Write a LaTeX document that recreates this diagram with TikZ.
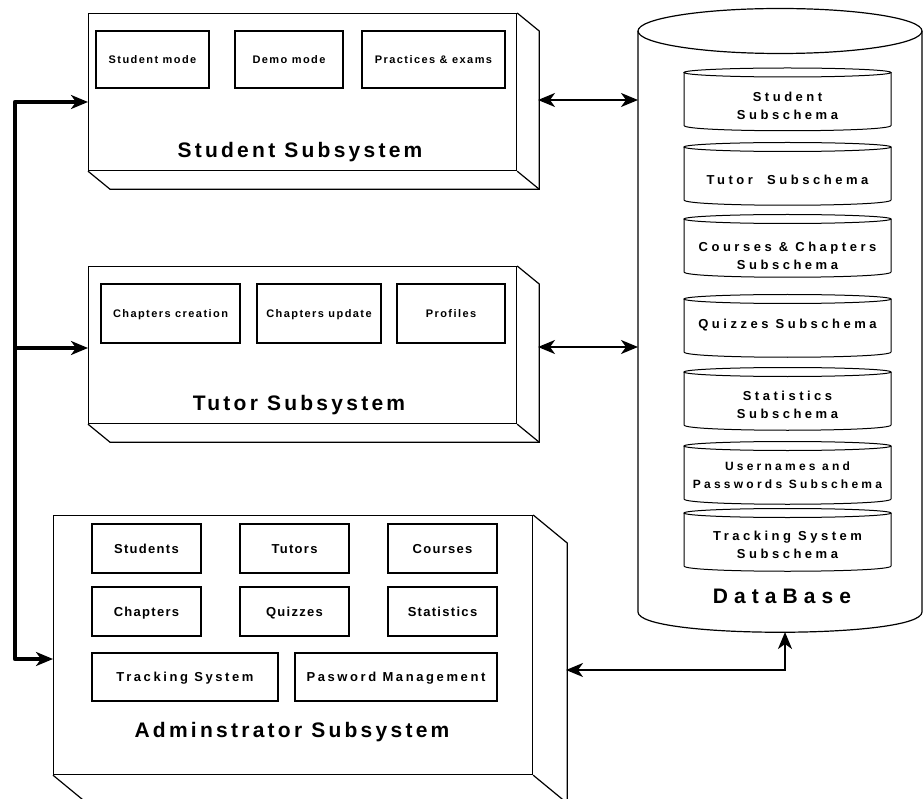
\documentclass[tikz,border=0pt]{standalone}
\usepackage{fontspec}
\setmainfont{Liberation Sans}
\newfontfamily\ttlfont{Liberation Sans}[LetterSpace=15.5]
\newfontfamily\basefont{Liberation Sans}[LetterSpace=29]
\newfontfamily\boxfont{Liberation Sans}[LetterSpace=13]
\newfontfamily\admfont{Liberation Sans}[LetterSpace=10]
\newfontfamily\admwide{Liberation Sans}[LetterSpace=20]
\newfontfamily\schfont{Liberation Sans}[LetterSpace=27]
\usetikzlibrary{arrows.meta,calc}

\tikzset{
  face/.style={draw,line width=1.2pt,anchor=north west,inner sep=0pt},
  part/.style={draw,line width=1.2pt,inner sep=0pt,text height=7.9pt,text depth=0pt,
    font=\boxfont\bfseries\fontsize{11}{13}\selectfont},
  apart/.style={part,text height=9.3pt,font=\admfont\bfseries\fontsize{13}{15}\selectfont},
  bpart/.style={apart,font=\admwide\bfseries\fontsize{13}{15}\selectfont},
  title/.style={anchor=base,font=\ttlfont\bfseries\fontsize{21}{25}\selectfont},
  bus/.style={line width=4.5pt,line join=round},
  link/.style={line width=2pt,<->},
}

\begin{document}
\begin{tikzpicture}[x=1pt,y=-1pt,>={Stealth[length=17pt,width=14pt,inset=5pt]}]
  \clip (0,0) rectangle (923,799);
  % subsystem slabs
  \node[face,minimum width=428pt,minimum height=157pt] (stud) at (88,13) {};
  \node[face,minimum width=428pt,minimum height=157pt] (tut)  at (88,266) {};
  \node[face,minimum width=479pt,minimum height=259pt] (adm)  at (53,515) {};
  \foreach \n/\dx/\dy in {stud/22/18,tut/22/18,adm/34/28}{
    \draw[line width=1.2pt] (\n.south west) -- ++(\dx,\dy) -- ($(\n.south east)+(\dx,\dy)$)
      -- ($(\n.north east)+(\dx,\dy)$) -- (\n.north east);
    \draw[line width=1.2pt] (\n.south east) -- ++(\dx,\dy);
  }

  % student subsystem
  \node[part,minimum width=113pt,minimum height=57pt] (sMode) at (152.5,59.5) {Student mode};
  \node[part,minimum width=108pt,minimum height=57pt] (dMode) at (289,59.5)   {Demo mode};
  \node[part,minimum width=143pt,minimum height=57pt] (pExam) at (433.5,59.5) {Practices \& exams};
  \node[title] (studT) at (300,158) {Student Subsystem};

  % tutor subsystem
  \node[part,minimum width=139pt,minimum height=59pt] (cNew) at (170.5,313.5) {Chapters creation};
  \node[part,minimum width=124pt,minimum height=59pt] (cUpd) at (319,313.5)   {Chapters update};
  \node[part,minimum width=108pt,minimum height=59pt] (prof) at (451,313.5)   {Profiles};
  \node[title] (tutT) at (299,410) {Tutor Subsystem};

  % administrator subsystem
  \foreach \nm/\x/\y/\txt in {aStud/146.5/548.5/Students,aTut/294.5/548.5/Tutors,
      aCour/442.5/548.5/Courses,aChap/146.5/611.5/Chapters,
      aQuiz/294.5/611.5/Quizzes,aStat/442.5/611.5/Statistics}
    \node[apart,minimum width=109pt,minimum height=49pt] (\nm) at (\x,\y) {\txt};
  \node[bpart,minimum width=186pt,minimum height=48pt] (aTrack) at (185,677) {Tracking System};
  \node[bpart,minimum width=202pt,minimum height=48pt] (aPass)  at (396,677) {Pasword Management};
  \node[title] (admT) at (292,737) {Adminstrator Subsystem};

  % database
  \draw[line width=1.2pt] (780,31) ellipse (142pt and 22.5pt);
  \draw[line width=1.2pt] (638,31) -- (638,612) .. controls (638,639) and (922,639) .. (922,612) -- (922,31);
  \foreach \ty/\tc/\fs/\txt [count=\i] in {72.5/106/13/{Student\\Subschema},
      147/180/13/{Tutor~~Subschema},219/256/13/{Courses \& Chapters\\Subschema},
      299/325/13/{Quizzes Subschema},372/405/13/{Statistics\\Subschema},
      446/475.5/12/{Usernames and\\Passwords Subschema},513/545/13/{Tracking System\\Subschema}}{
    \draw[line width=1pt] (684,\ty) -- (684,\ty+53) .. controls (684,\ty+60) and (891,\ty+60) .. (891,\ty+53) -- (891,\ty);
    \draw[line width=1pt] (787.5,\ty) ellipse (103.5pt and 4.5pt);
    \node[align=center,font=\schfont\bfseries\fontsize{\fs}{18}\selectfont] (sch\i) at (787.5,\tc) {\txt};
  }
  \node[anchor=base,font=\basefont\bfseries\fontsize{21}{25}\selectfont] (dbT) at (782,603) {DataBase};

  % connectors
  \coordinate (busTop) at (15,102);
  \coordinate (busMid) at (15,348);
  \coordinate (busBot) at (15,659);
  \draw[bus,<->] (busTop -| stud.west) -- (busTop) -- (busBot) -- (busBot -| adm.west);
  \draw[bus,->] (busMid) -- (busMid -| tut.west);

  \coordinate (sOut) at (538,100);
  \coordinate (tOut) at (538,347);
  \coordinate (aOut) at (566,670);
  \coordinate (dbA) at (638,100);
  \coordinate (dbB) at (638,347);
  \coordinate (dbC) at (785,632);
  \draw[link] (sOut) -- (dbA);
  \draw[link] (tOut) -- (dbB);
  \draw[link] (aOut) -| (dbC);
\end{tikzpicture}
\end{document}
